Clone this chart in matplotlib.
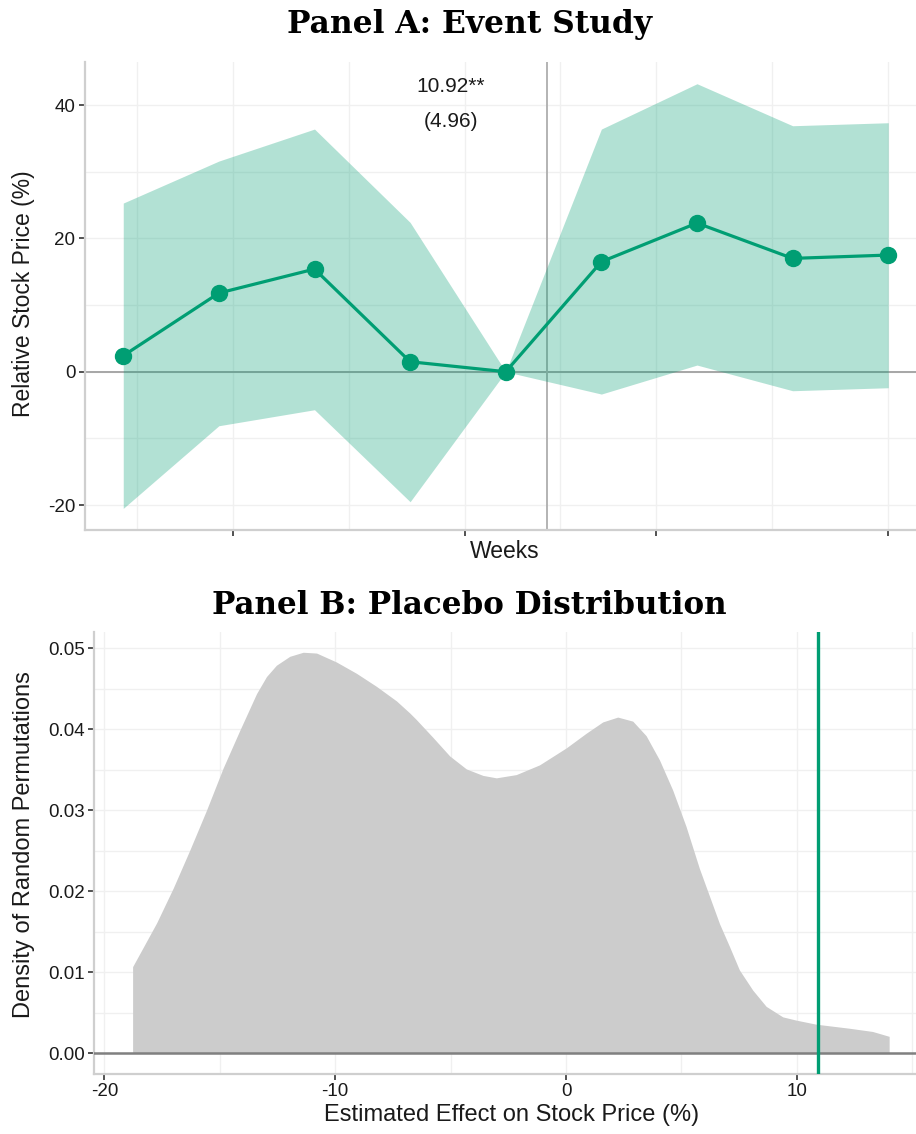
import matplotlib
matplotlib.use("Agg")
import matplotlib.pyplot as plt

# ---------------- Panel A data (event study) ----------------
days = [0, 7, 14, 21, 28, 35, 42, 49, 56]
estimate = [2.4, 11.8, 15.4, 1.5, 0.0, 16.5, 22.3, 17.0, 17.5]
ci_upper = [25.3, 31.6, 36.4, 22.4, 0.0, 36.4, 43.2, 36.9, 37.35]
ci_lower = [-20.5, -8.1, -5.7, -19.5, 0.0, -3.35, 1.0, -2.85, -2.4]
event_day = 31
tick_days = [8, 25, 39, 56]
minor_grid_days = [1, 16.5, 32, 47.5]
y_ticks_a = [-20, 0, 20, 40]
y_minor_a = [-10, 10, 30]
effect_label = "10.92**"
se_label = "(4.96)"

# ---------------- Panel B data (placebo distribution) ----------------
effect_grid = [-18.78, -17.74, -17.02, -16.30, -15.58, -14.86, -14.13, -13.41,
               -12.98, -12.55, -11.97, -11.39, -10.81, -9.95, -9.08, -8.22,
               -7.35, -6.77, -6.49, -5.77, -5.04, -4.32, -3.60, -3.02, -2.16,
               -1.15, 0.01, 0.87, 1.59, 2.24, 2.89, 3.47, 4.05, 4.62, 5.20,
               5.78, 6.65, 7.08, 7.51, 8.09, 8.67, 9.39, 9.97, 10.83, 12.27,
               13.28, 14.0]
density = [0.0107, 0.0161, 0.0204, 0.0251, 0.0300, 0.0352, 0.0399, 0.0444,
           0.0465, 0.0479, 0.0490, 0.0495, 0.0494, 0.0483, 0.0469, 0.0453,
           0.0435, 0.0420, 0.0412, 0.0390, 0.0367, 0.0351, 0.0343, 0.0340,
           0.0344, 0.0356, 0.0377, 0.0395, 0.0409, 0.0415, 0.0410, 0.0392,
           0.0362, 0.0325, 0.0280, 0.0228, 0.0160, 0.0132, 0.0103, 0.0078,
           0.0058, 0.0045, 0.0041, 0.0036, 0.0031, 0.0027, 0.0021]
observed_effect = 10.92
x_ticks_b = [-20, -10, 0, 10]
x_minor_b = [-15, -5, 5, 15]
y_ticks_b = [0.00, 0.01, 0.02, 0.03, 0.04, 0.05]
y_minor_b = [0.005, 0.015, 0.025, 0.035, 0.045]

GREEN = "#009E73"
SANS = ["Liberation Sans", "DejaVu Sans"]
SERIF = ["DejaVu Serif"]
W, H = 916, 1134

plt.rcParams["font.family"] = SANS
plt.rcParams["axes.unicode_minus"] = False

fig = plt.figure(figsize=(W / 100, H / 100), dpi=100)


def px_axes(left, top, right, bottom):
    return fig.add_axes([left / W, 1 - bottom / H, (right - left) / W, (bottom - top) / H])


def style(ax, xmaj, xmin, ymaj, ymin):
    ax.set_facecolor("white")
    for s in ["top", "right"]:
        ax.spines[s].set_visible(False)
    for s in ["left", "bottom"]:
        ax.spines[s].set_color("#cfcfcf")
        ax.spines[s].set_linewidth(1.6)
    ax.set_xticks(xmaj)
    ax.set_xticks(xmin, minor=True)
    ax.set_yticks(ymaj)
    ax.set_yticks(ymin, minor=True)
    ax.tick_params(which="major", length=4, width=1.2, color="#333333",
                   labelsize=13.5, labelcolor="#1a1a1a", pad=3)
    ax.tick_params(which="minor", length=0)
    ax.grid(which="both", color="#f0f0f0", linewidth=1.0)
    ax.set_axisbelow(True)


# ---------------- Panel A ----------------
axA = px_axes(85, 62.4, 926.5, 530.4)
style(axA, tick_days, minor_grid_days, y_ticks_a, y_minor_a)
axA.set_xlim(-2.8, 58.8)
axA.set_ylim(-23.8, 46.4)
axA.set_xticklabels([])
axA.set_yticklabels([str(v) for v in y_ticks_a])
axA.axhline(0, color="#a6a6a6", linewidth=1.4, zorder=1)
axA.axvline(event_day, color="#b3b3b3", linewidth=1.4, zorder=1)
axA.fill_between(days, ci_lower, ci_upper, color=GREEN, alpha=0.3, linewidth=0, zorder=2)
axA.plot(days, estimate, color=GREEN, linewidth=2.3, zorder=3)
axA.plot(days, estimate, "o", color=GREEN, markersize=11.5, zorder=4)
axA.text(24.0, 42.8, effect_label, ha="center", va="center", fontsize=15, color="#1a1a1a")
axA.text(24.0, 37.6, se_label, ha="center", va="center", fontsize=15, color="#1a1a1a")

# ---------------- Panel B ----------------
axB = px_axes(94.3, 632, 927, 1073.6)
style(axB, x_ticks_b, x_minor_b, y_ticks_b, y_minor_b)
axB.set_xlim(-20.44, 15.64)
axB.set_ylim(-0.0025, 0.052)
axB.set_yticklabels([f"{v:.2f}" for v in y_ticks_b])
axB.set_xticklabels([str(v) for v in x_ticks_b])
axB.fill_between(effect_grid, 0, density, color="#cccccc", linewidth=0, zorder=2)
axB.axhline(0, color="#808080", linewidth=1.8, zorder=3)
axB.axvline(observed_effect, color=GREEN, linewidth=2.4, zorder=4)

# ---------------- Texts ----------------
def fit_text(x, y, s, target_w, **kw):
    t = fig.text(x / W, 1 - y / H, s, **kw)
    r = fig.canvas.get_renderer()
    w = t.get_window_extent(r).width
    t.set_fontsize(t.get_fontsize() * target_w / w)
    return t

fit_text(469.5, 33.5, "Panel A: Event Study", 365, ha="center", va="baseline",
         family=SERIF, weight="bold", fontsize=20, color="black")
fit_text(469.5, 613.5, "Panel B: Placebo Distribution", 515, ha="center", va="baseline",
         family=SERIF, weight="bold", fontsize=20, color="black")

fig.text(24 / W, 1 - 294 / H, "Relative Stock Price (%)", rotation=90, ha="center",
         va="center", fontsize=16.5, color="#1a1a1a")
fig.text(505 / W, 1 - 551 / H, "Weeks", ha="center", va="center", fontsize=16.5, color="#1a1a1a")
fig.text(24 / W, 1 - 845 / H, "Density of Random Permutations", rotation=90, ha="center",
         va="center", fontsize=17, color="#1a1a1a")
fig.text(512 / W, 1 - 1115 / H, "Estimated Effect on Stock Price (%)", ha="center",
         va="center", fontsize=17, color="#1a1a1a")

fig.savefig("out.png", dpi=100, facecolor="white")
